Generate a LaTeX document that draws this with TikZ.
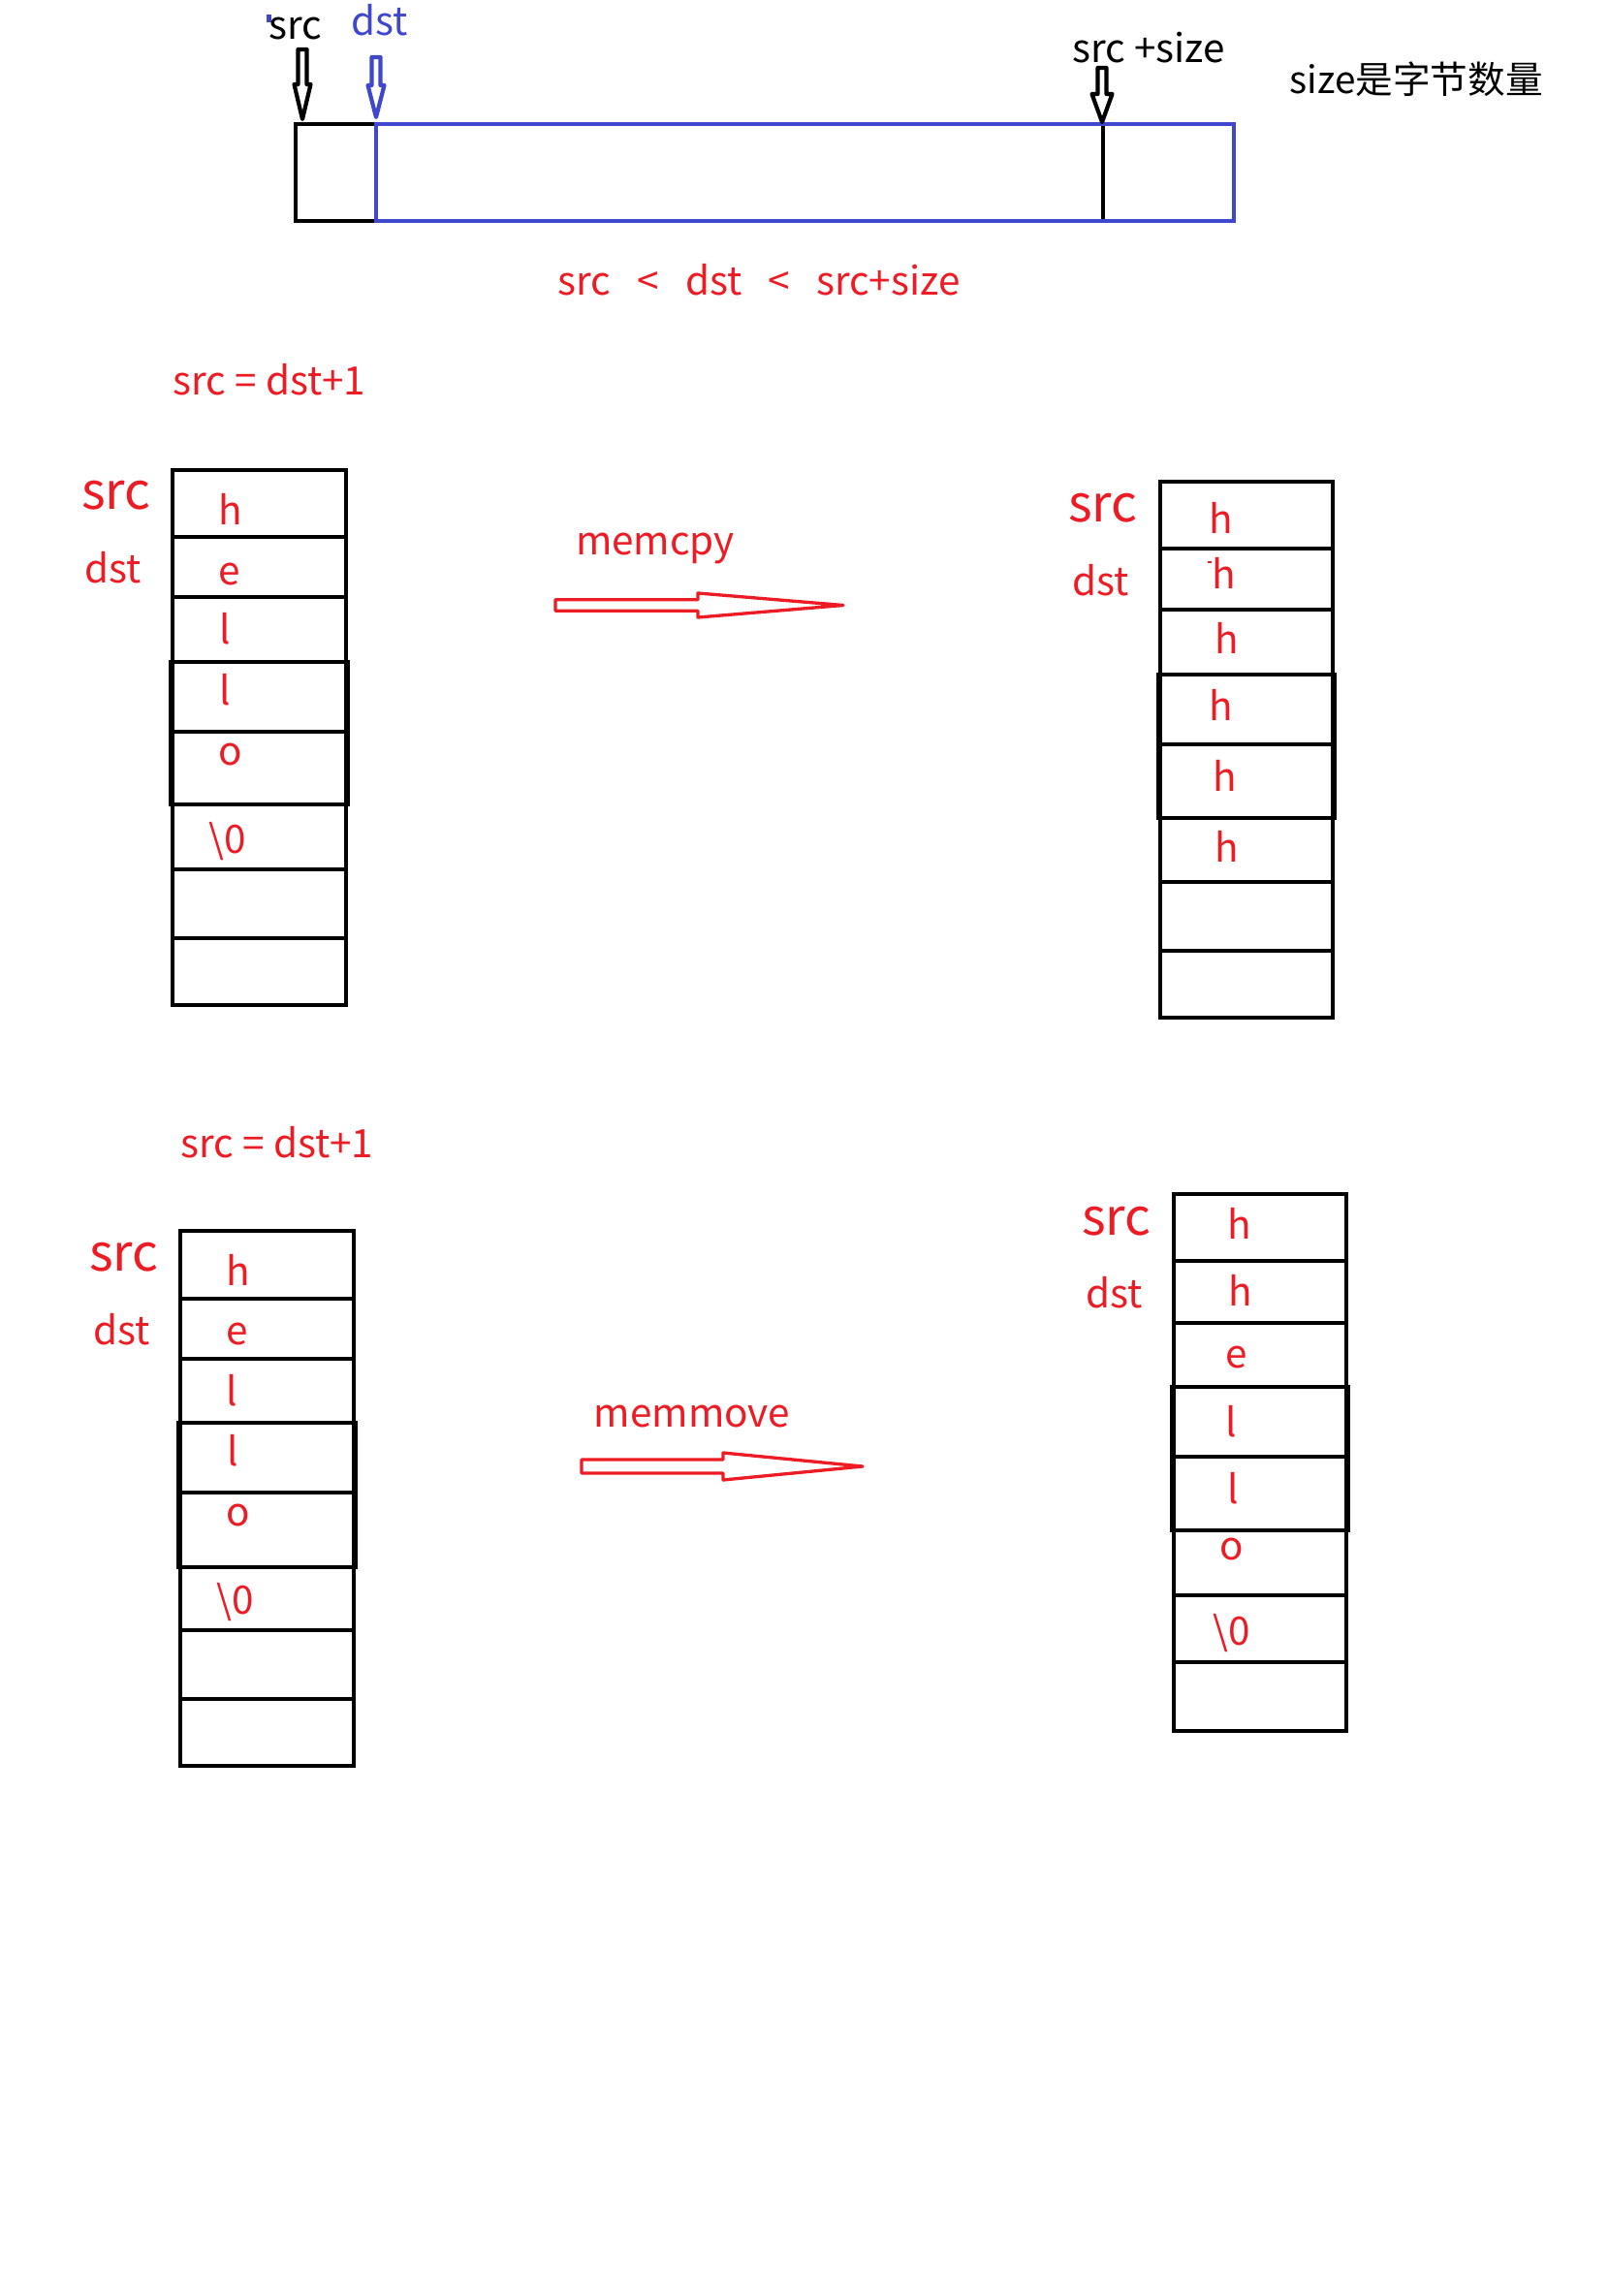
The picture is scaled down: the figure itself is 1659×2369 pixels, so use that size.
\documentclass[tikz,border=0pt]{standalone}
\usepackage{fontspec}
\setmainfont{Noto Sans CJK SC}
\usetikzlibrary{calc}
\definecolor{paintred}{RGB}{237, 28, 36}
\definecolor{paintblue}{RGB}{63, 72, 204}

\begin{document}
\begin{tikzpicture}[
                x=0.1mm, y=-0.1mm,
                txt/.style={anchor=base, inner sep=0pt, font=\fontsize{11.5}{14}\selectfont},
                redtxt/.style={txt, text=paintred},
                bigtxt/.style={anchor=base, inner sep=0pt, text=paintred, font=\fontsize{15}{18}\selectfont},
                cellline/.style={draw=black, line width=0.4mm},
                thickline/.style={draw=black, line width=0.48mm},
                hollow/.style args={#1/#2/#3}{line join=round, to path={
                    ($(\tikztostart)!#1!90:(\tikztotarget)$)
                    -- ($(\tikztotarget)!#3!(\tikztostart)!#1!-90:(\tikztostart)$)
                    -- ($(\tikztotarget)!#3!(\tikztostart)!#2!-90:(\tikztostart)$)
                    -- (\tikztotarget)
                    -- ($(\tikztotarget)!#3!(\tikztostart)!#2!90:(\tikztostart)$)
                    -- ($(\tikztotarget)!#3!(\tikztostart)!#1!90:(\tikztostart)$)
                    -- ($(\tikztostart)!#1!-90:(\tikztotarget)$)
                    -- cycle}}
            ]
                \useasboundingbox (0,0) rectangle (1659,2369);

                % 上方的内存块
                \draw[black, line width=0.4mm] (1138,128) -- (1138,228);
                \draw[black, line width=0.4mm] (305,128) rectangle (388,228);
                \draw[paintblue, line width=0.4mm] (388,128) rectangle (1273,228);

                % 指针
                \fill[paintblue] (275,15) rectangle (280,23);
                \node[txt] (srcTop) at (305,41) {src};
                \node[txt, text=paintblue] (dstTop) at (392,37) {dst};
                \node[txt] (srcSize) at (1185,65) {src +size};
                \node[txt, font=\fontsize{11}{13}\selectfont] (sizeNote) at (1461,97) {size是字节数量};
                \coordinate (srcTail) at (312,51);
                \coordinate (srcTip) at (312,123);
                \coordinate (dstTail) at (388,59);
                \coordinate (dstTip) at (388,121);
                \coordinate (endTail) at (1137,70);
                \coordinate (endTip) at (1137,126);
                \draw[black, line width=0.42mm, hollow=0.45mm/0.85mm/3.6mm] (srcTail) to (srcTip);
                \draw[paintblue, line width=0.42mm, hollow=0.45mm/0.85mm/3.3mm] (dstTail) to (dstTip);
                \draw[black, line width=0.42mm, hollow=0.45mm/1.05mm/2.9mm] (endTail) to (endTip);

                \node[redtxt] (cond) at (783,305) {src~~~<~~~dst~~~<~~~src+size};

                % memcpy
                \node[redtxt] (eq1) at (278,408) {src = dst+1};
                \node[bigtxt] (srcA) at (120,526) {src};
                \node[redtxt] (dstA) at (117,602) {dst};
                \draw[cellline] (178,485) rectangle (357,1037);
                \foreach \y in {554,616,683,755,830,897,968}
                    \draw[cellline] (178,\y) -- (357,\y);
                \draw[thickline] (176.5,683) rectangle (358.5,830);
                \foreach \c/\x/\y [count=\i] in {h/238/542, e/237/604, l/232/665, l/232/728, o/238/790, {\textbackslash 0}/235/880}
                    \node[redtxt] (a\i) at (\x,\y) {\c};

                \node[redtxt] (cpyLabel) at (676,573) {memcpy};
                \coordinate (cpyTail) at (573,624.5);
                \coordinate (cpyTip) at (870,624.5);
                \draw[paintred, line width=0.33mm, hollow=0.58mm/1.25mm/15mm] (cpyTail) to (cpyTip);

                \node[bigtxt] (srcB) at (1138,539) {src};
                \node[redtxt] (dstB) at (1136,615) {dst};
                \draw[cellline] (1197,497) rectangle (1375,1050);
                \foreach \y in {566,629,696,768,844,910,981}
                    \draw[cellline] (1197,\y) -- (1375,\y);
                \draw[thickline] (1195,696) rectangle (1377,844);
                \foreach \c/\x/\y [count=\i] in {h/1260/551, h/1263/608, h/1266/675, h/1260/744, h/1264/816, h/1266/889}
                    \node[redtxt] (b\i) at (\x,\y) {\c};
                \fill[paintred] (1246,579) rectangle (1250,581);

                % memmove
                \node[redtxt] (eq2) at (286,1194) {src = dst+1};
                \node[bigtxt] (srcC) at (128,1311) {src};
                \node[redtxt] (dstC) at (126,1387) {dst};
                \draw[cellline] (186,1270) rectangle (365,1822);
                \foreach \y in {1340,1402,1468,1540,1617,1682,1753}
                    \draw[cellline] (186,\y) -- (365,\y);
                \draw[thickline] (184.5,1468) rectangle (366.5,1617);
                \foreach \c/\x/\y [count=\i] in {h/246/1326, e/245/1387, l/239/1450, l/240/1512, o/246/1574, {\textbackslash 0}/243/1665}
                    \node[redtxt] (c\i) at (\x,\y) {\c};

                \node[redtxt] (movLabel) at (714,1472) {memmove};
                \coordinate (movTail) at (600,1513);
                \coordinate (movTip) at (890,1513);
                \draw[paintred, line width=0.33mm, hollow=0.7mm/1.4mm/14.4mm] (movTail) to (movTip);

                \node[bigtxt] (srcD) at (1152,1274) {src};
                \node[redtxt] (dstD) at (1150,1349) {dst};
                \draw[cellline] (1211,1232) rectangle (1389,1786);
                \foreach \y in {1301,1365,1431,1503,1579,1646,1715}
                    \draw[cellline] (1211,\y) -- (1389,\y);
                \draw[thickline] (1209,1431) rectangle (1391,1579);
                \foreach \c/\x/\y [count=\i] in {h/1279/1278, h/1280/1347, e/1276/1411, l/1270/1482, l/1272/1551, o/1271/1609, {\textbackslash 0}/1271/1697}
                    \node[redtxt] (d\i) at (\x,\y) {\c};
            \end{tikzpicture}
\end{document}
